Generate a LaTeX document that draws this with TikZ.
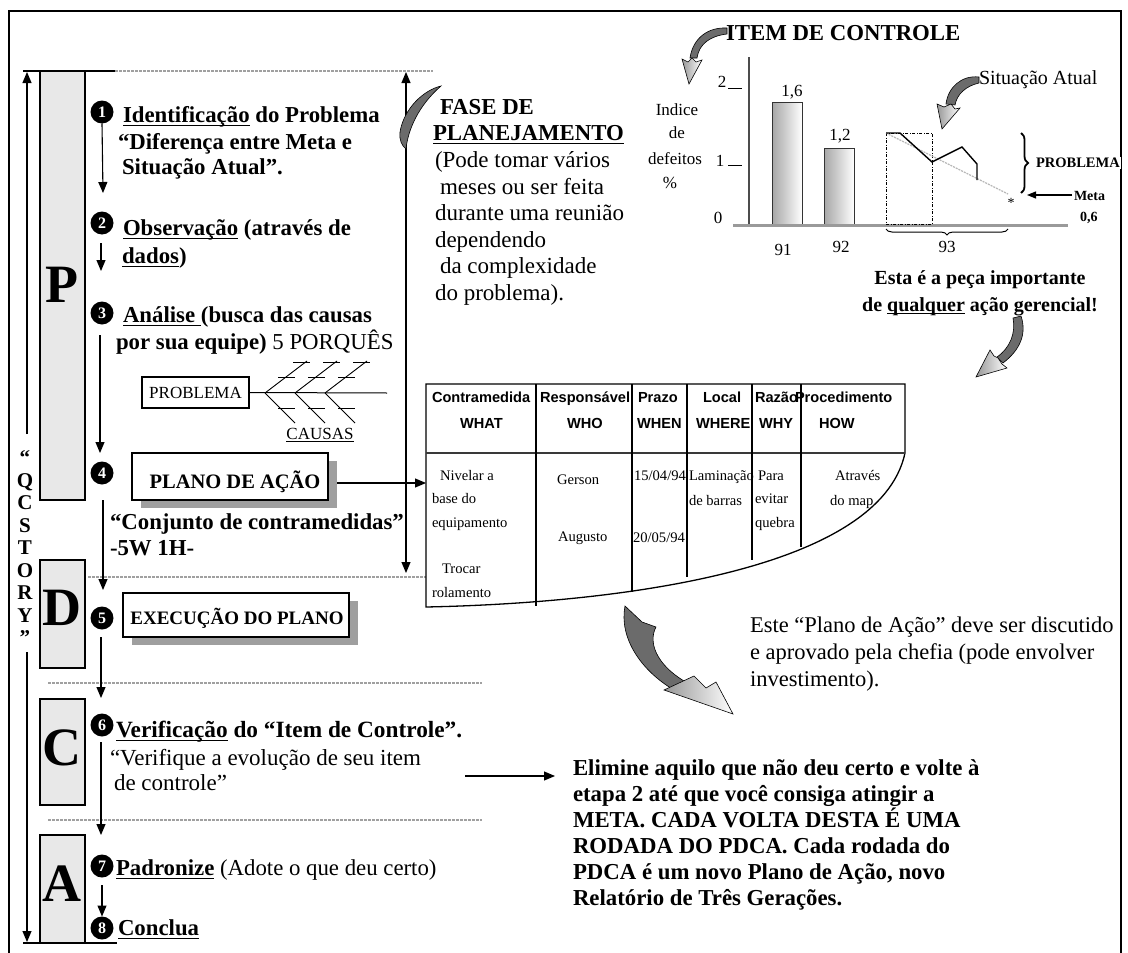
\documentclass[tikz,border=0pt]{standalone}
\usepackage{fontspec}
\setmainfont{Liberation Serif}
\newfontfamily\hdrfont{Liberation Sans}
\usetikzlibrary{arrows.meta,decorations.pathreplacing,shadows}
\newcommand\setsz[1]{\fontsize{#1}{#1}\selectfont}
% underline at a fixed depth below the baseline
\newsavebox\undlbox
\newcommand\undl[1]{\sbox\undlbox{#1}\rlap{\rule[-0.17em]{\wd\undlbox}{0.055em}}\usebox\undlbox}

\definecolor{boxgray}{HTML}{E8E8E8}
\definecolor{curldark}{HTML}{6B6B6B}
\definecolor{sepgray}{HTML}{A0A0A0}
\definecolor{axisgray}{HTML}{9A9A9A}

\begin{document}
\begin{tikzpicture}[x=1pt,y=-1pt,
  every node/.style={inner sep=0pt,outer sep=0pt},
  >={Triangle[width=9pt,length=11pt]},
  stepb/.style={anchor=base west,font=\setsz{22.8}\bfseries},
  stepn/.style={anchor=base west,font=\setsz{23}},
  fasen/.style={anchor=base west,font=\setsz{23}},
  elim/.style={anchor=base west,font=\setsz{22.8}\bfseries},
  chartn/.style={font=\setsz{17}},
  hdr/.style={anchor=base west,font=\hdrfont\setsz{14.6}\bfseries},
  cell/.style={anchor=base west,font=\setsz{14.6}},
  phasebox/.style={draw,line width=1.2pt,fill=boxgray},
  phaseletter/.style={font=\setsz{54}\bfseries},
  qcs/.style={anchor=base,font=\setsz{21}\bfseries},
  numdot/.style={circle,fill=black,inner sep=0pt,minimum width=23pt,minimum height=23pt,text=white,font=\setsz{16}\bfseries},
  flow/.style={line width=1.1pt,->},
  sep/.style={sepgray,line width=1.3pt,dash pattern=on 2.5pt off 1.5pt},
  shadowbox/.style={draw,line width=1.3pt,fill=white,
    drop shadow={shadow xshift=9pt,shadow yshift=-8pt,fill=gray!75,opacity=1}},
  curl/.style={fill=curldark,draw=black,line width=0.6pt},
  curlhead/.style={left color=curldark!70,right color=white,draw=black,line width=0.6pt}
]
\useasboundingbox (0,0) rectangle (1128,953);
\fill[white] (0,0) rectangle (1128,953);

% outer frame (open at the bottom)
\draw[line width=1.3pt] (9,953) -- (9,11) -- (1121,11) -- (1121,953);

% ---------------- left column: QC story ----------------
\draw[line width=1.5pt] (23,71) -- (115,71);
\draw[sep] (115,71) -- (433,71);
\draw[line width=1.5pt] (23,943) -- (117,943);
\coordinate (qtop) at (27,72);
\coordinate (qmidA) at (27,434);
\coordinate (qmidB) at (27,652);
\coordinate (qbot) at (27,942);
\draw[flow] (qmidA) -- (qtop);
\draw[flow] (qmidB) -- (qbot);
\foreach \ch/\yy [count=\i] in {“/464,Q/487,C/509,S/532,T/554,O/577,R/599,Y/622,”/644}
  \node[qcs] (qc\i) at (25,\yy) {\ch};

% phase boxes
\node[phasebox,minimum width=45pt,minimum height=429pt] (boxP) at (62.5,285.5) {};
\node[phaseletter] (letP) at (62,285) {P};
\node[phasebox,minimum width=45pt,minimum height=108pt] (boxD) at (62.5,614) {};
\node[phaseletter] (letD) at (62,608) {D};
\node[phasebox,minimum width=45pt,minimum height=106pt] (boxC) at (62.5,752) {};
\node[phaseletter] (letC) at (62,748) {C};
\node[phasebox,minimum width=45pt,minimum height=108pt] (boxA) at (62.5,889) {};
\node[phaseletter] (letA) at (62,884) {A};

% phase separators
\draw[sep] (88,577) -- (426,577);
\draw[sep] (48,683) -- (482,683);
\draw[sep] (48,820) -- (482,820);

% planning span arrow
\coordinate (fTop) at (406,72);
\coordinate (fBot) at (406,573);
\draw[line width=1.1pt,<->] (fTop) -- (fBot);

% numbered bullets
\foreach \n/\yy in {1/112,2/223,3/313,4/473,5/618,6/725,7/866,8/928}
  \node[numdot] (b\n) at (102,\yy) {\n};

% step flow arrows
\coordinate (a1e) at (103,193);
\draw[flow] (b1.south) -- (a1e);
\coordinate (a2s) at (101,243); \coordinate (a2e) at (101,271);
\draw[flow] (a2s) -- (a2e);
\coordinate (a3s) at (100,335); \coordinate (a3e) at (100,453);
\draw[flow] (a3s) -- (a3e);
\coordinate (a4s) at (103,500); \coordinate (a4e) at (103,590);
\draw[flow] (a4s) -- (a4e);
\coordinate (a5s) at (101,637); \coordinate (a5e) at (101,698);
\draw[flow] (a5s) -- (a5e);
\coordinate (a6s) at (101,742); \coordinate (a6e) at (101,835);
\draw[flow] (a6s) -- (a6e);
\coordinate (a7s) at (102,885);
\draw[flow] (a7s) -- (b8.north);

% step texts
\node[stepb] (s1a) at (123,122) {\undl{Identificação} do Problema};
\node[stepb] (s1b) at (118,149) {“Diferença entre Meta e};
\node[stepb] (s1c) at (122,174) {Situação Atual”.};
\node[stepb] (s2a) at (123,235) {\undl{Observação} (através de};
\node[stepb] (s2b) at (122,263) {\undl{dados})};
\node[stepb] (s3a) at (123,322) {\undl{Análise }(busca das causas};
\node[stepb] (s3b) at (116,349) {por sua equipe) {\mdseries 5 PORQUÊS}};
\node[stepb] (s4a) at (110,529) {“Conjunto de contramedidas”};
\node[stepb] (s4b) at (110,555) {-5W 1H-};
\node[stepb,font=\setsz{23.3}\bfseries] (s6a) at (116,737) {\undl{Verificação} do “Item de Controle”.};
\node[stepn] (s6b) at (110,765) {“Verifique a evolução de seu item};
\node[stepn] (s6c) at (114,790) {de controle”};
\node[stepb] (s7) at (116,875) {\undl{Padronize} {\mdseries (Adote o que deu certo)}};
\node[stepb] (s8) at (118,935) {\undl{Conclua}};

% fishbone
\node[draw,line width=1.1pt,minimum width=107pt,minimum height=31pt,font=\setsz{17}] (fbprob) at (195.5,392.5) {PROBLEMA};
\coordinate (fbend) at (387,393);
\draw[line width=1pt] (fbprob.east) -- (fbend);
\foreach \x in {265,295,325} {
  \draw[line width=0.9pt] (\x,393) -- (\x+42,361);
  \draw[line width=0.9pt] (\x+28,362) -- (\x+45,362);
  \draw[line width=0.9pt] (\x+13,377) -- (\x+30,377);
  \draw[line width=0.9pt] (\x,393) -- (\x+30,423);
  \draw[line width=0.9pt] (\x+13,408) -- (\x+30,408);
}
\node[font=\setsz{17}] (causas) at (320,435) {\undl{CAUSAS}};

% action plan box
\node[shadowbox,minimum width=196pt,minimum height=47pt] (plano) at (230,476.5) {};
\node[font=\setsz{20.5}\bfseries] (planotxt) at (235,482) {PLANO DE AÇÃO};
\node[shadowbox,minimum width=226pt,minimum height=44pt] (exec) at (236,615) {};
\node[font=\setsz{19}\bfseries] (exectxt) at (237,618) {EXECUÇÃO DO PLANO};

% planning phase note
\node[stepb] (fase1) at (440,114) {FASE DE};
\node[stepb] (fase2) at (433,140) {\undl{PLANEJAMENTO}};
\node[fasen] (fase3) at (435,167) {(Pode tomar vários};
\node[fasen] (fase4) at (440,194) {meses ou ser feita};
\node[fasen] (fase5) at (435,220) {durante uma reunião};
\node[fasen] (fase6) at (435,247) {dependendo};
\node[fasen] (fase7) at (440,273) {da complexidade};
\node[fasen] (fase8) at (435,300) {do problema).};

% ---------------- control item chart ----------------
\node[stepb] (itemtit) at (726,40) {ITEM DE CONTROLE};
\node[anchor=base west,font=\setsz{20}] (sitat) at (979,84) {Situação Atual};
\node[chartn,anchor=base] (ind1) at (677,115) {Indice};
\node[chartn,anchor=base] (ind2) at (677,138) {de};
\node[chartn,anchor=base] (ind3) at (675,164) {defeitos};
\node[chartn,anchor=base] (ind4) at (670,188) {\%};

\draw[line width=1.3pt,gray!60!black] (749,57) -- (749,225);
\node[chartn] (t2) at (722,82) {2};
\node[chartn] (t1) at (720,161) {1};
\node[chartn] (t0) at (718,218) {0};
\draw[line width=1pt] (728,88) -- (742,88);
\draw[line width=1pt] (728,165) -- (742,165);

\shade[left color=gray!70,right color=white] (772,102) rectangle (802,225);
\draw[line width=1pt,gray!40!black] (772,225) -- (772,102) -- (802,102) -- (802,225);
\shade[left color=gray!70,right color=white] (824,148) rectangle (854,225);
\draw[line width=1pt,gray!40!black] (824,225) -- (824,148) -- (854,148) -- (854,225);
\node[chartn] (v16) at (792,92) {1,6};
\node[chartn] (v12) at (840,136) {1,2};

\draw[line width=3pt,axisgray] (733,225) -- (1068,225);

\draw[line width=0.9pt,dash pattern=on 3pt off 1.5pt on 1pt off 1.5pt] (886,133) rectangle (932,224);
\draw[line width=1.3pt,gray!55,dash pattern=on 2pt off 1pt] (886,133) -- (1008,194);
\draw[line width=1.4pt] (886,133) -- (900,133) -- (932,162) -- (962,147) -- (977,164) -- (977,180);
\node[font=\setsz{14}] (star) at (1011,203) {*};

\draw[line width=1.8pt,decorate,decoration={brace,amplitude=7pt}] (1021,133) -- (1021,193);
\node[anchor=west,fill=white,inner sep=1pt,font=\setsz{14.5}\bfseries] (probl) at (1035,163) {PROBLEMA};
\coordinate (metaS) at (1072,195);
\coordinate (metaE) at (1027,195);
\draw[line width=1.2pt,-{Triangle[width=7pt,length=9pt]}] (metaS) -- (metaE);
\node[anchor=west,font=\setsz{14}\bfseries] (meta) at (1074,196) {Meta};
\node[anchor=west,font=\setsz{14}\bfseries] (meta6) at (1080,218) {0,6};

\draw[line width=1pt,decorate,decoration={brace,amplitude=6pt}] (1008,229) -- (886,229);
\node[chartn] (x91) at (783,250) {91};
\node[chartn] (x92) at (841,247) {92};
\node[chartn] (x93) at (947,247) {93};

\node[anchor=base,font=\setsz{20}\bfseries] (esta1) at (980,284) {Esta é a peça importante};
\node[anchor=base,font=\setsz{20}\bfseries] (esta2) at (980,311) {de \undl{qualquer} ação gerencial!};

% ---------------- 5W1H table ----------------
\coordinate (tblL) at (426,483);
\coordinate (planoOut) at (337,483);
\draw[flow] (planoOut) -- (tblL);
\draw[line width=1.3pt] (426,384) -- (905,384) -- (905,453)
  .. controls (880,570) and (620,603) .. (426,607) -- cycle;
\draw[line width=2.4pt,gray!45!black] (426,453) -- (905,453);
\draw[line width=1.2pt] (536,384) -- (536,606);
\draw[line width=1.2pt] (632,384) -- (632,592);
\draw[line width=1.2pt] (687,384) -- (687,577);
\draw[line width=1.2pt] (752,384) -- (752,560);
\draw[line width=1.2pt] (801,384) -- (801,547);

\node[hdr] (h1a) at (432,402) {Contramedida};
\node[hdr] (h1b) at (460,428) {WHAT};
\node[hdr] (h2a) at (540,402) {Responsável};
\node[hdr] (h2b) at (567,428) {WHO};
\node[hdr] (h3a) at (638,402) {Prazo};
\node[hdr] (h3b) at (637,428) {WHEN};
\node[hdr] (h4a) at (703,402) {Local};
\node[hdr] (h4b) at (696,428) {WHERE};
\node[hdr] (h5a) at (755,402) {Razão};
\node[hdr] (h5b) at (759,428) {WHY};
\node[hdr] (h6a) at (795,402) {Procedimento};
\node[hdr] (h6b) at (819,428) {HOW};

\node[cell] (c1a) at (440,480) {Nivelar a};
\node[cell] (c1b) at (432,503) {base do};
\node[cell] (c1c) at (432,527) {equipamento};
\node[cell] (c1d) at (442,573) {Trocar};
\node[cell] (c1e) at (432,597) {rolamento};
\node[cell] (c2a) at (557,484) {Gerson};
\node[cell] (c2b) at (558,541) {Augusto};
\node[cell] (c3a) at (634,480) {15/04/94};
\node[cell] (c3b) at (633,542) {20/05/94};
\node[cell] (c4a) at (689,480) {Laminação};
\node[cell] (c4b) at (689,505) {de barras};
\node[cell] (c5a) at (758,480) {Para};
\node[cell] (c5b) at (755,503) {evitar};
\node[cell] (c5c) at (755,527) {quebra};
\node[cell] (c6a) at (835,480) {Através};
\node[cell] (c6b) at (830,505) {do map};

% ---------------- notes ----------------
\node[stepn,font=\setsz{22.5}] (este1) at (750,632) {Este “Plano de Ação” deve ser discutido};
\node[stepn,font=\setsz{22.5}] (este2) at (750,659) {e aprovado pela chefia (pode envolver};
\node[stepn,font=\setsz{22.5}] (este3) at (750,686) {investimento).};

\coordinate (verS) at (465,776);
\coordinate (verE) at (555,776);
\draw[flow] (verS) -- (verE);
\node[elim] (el1) at (573,775.5) {Elimine aquilo que não deu certo e volte à};
\node[elim] (el2) at (573,801.5) {etapa 2 até que você consiga atingir a};
\node[elim] (el3) at (573,827.5) {META. CADA VOLTA DESTA É UMA};
\node[elim] (el4) at (573,853) {RODADA DO PDCA. Cada rodada do};
\node[elim] (el5) at (573,879) {PDCA é um novo Plano de Ação, novo};
\node[elim] (el6) at (573,905) {Relatório de Três Gerações.};

% ---------------- curved pointer arrows ----------------
% planning note pointer
\filldraw[curl] (441,86) .. controls (424,90) and (404,108) .. (400,132)
  .. controls (399,140) and (402,146) .. (406,149)
  .. controls (408,130) and (418,106) .. (441,86) -- cycle;
% control item pointer
\filldraw[curl] (727,28) .. controls (708,27) and (693,38) .. (690,58) -- (697,58)
  .. controls (699,44) and (710,36) .. (727,34) -- cycle;
\shadedraw[curlhead] (682,59) -- (689,84) -- (702,60) -- (696,62) -- (692,58) -- (688,62) -- cycle;
% current situation pointer
\filldraw[curl] (979,77) .. controls (962,75) and (948,87) .. (946,104) -- (955,105)
  .. controls (957,94) and (966,86) .. (979,83) -- cycle;
\shadedraw[curlhead] (937,104) -- (942,129) -- (960,108) -- (955,109) -- (951,104) -- (944,107) -- cycle;
% pointer to the table
\filldraw[curl] (1021,316) .. controls (1027,334) and (1020,350) .. (1003,363) -- (997,357)
  .. controls (1010,348) and (1016,333) .. (1013,318) -- cycle;
\shadedraw[curlhead] (990,350) -- (976,377) -- (1007,368) -- (1002,364) -- (998,358) -- (994,356) -- cycle;
% pointer below the table
\filldraw[curl] (625,606) .. controls (619,637) and (640,670) .. (674,690) -- (684,681)
  .. controls (656,664) and (648,642) .. (656,627) -- (642,622) -- cycle;
\shadedraw[curlhead] (664,690) -- (733,714) -- (716,682) -- (706,688) -- (694,676) -- cycle;

\end{tikzpicture}
\end{document}
